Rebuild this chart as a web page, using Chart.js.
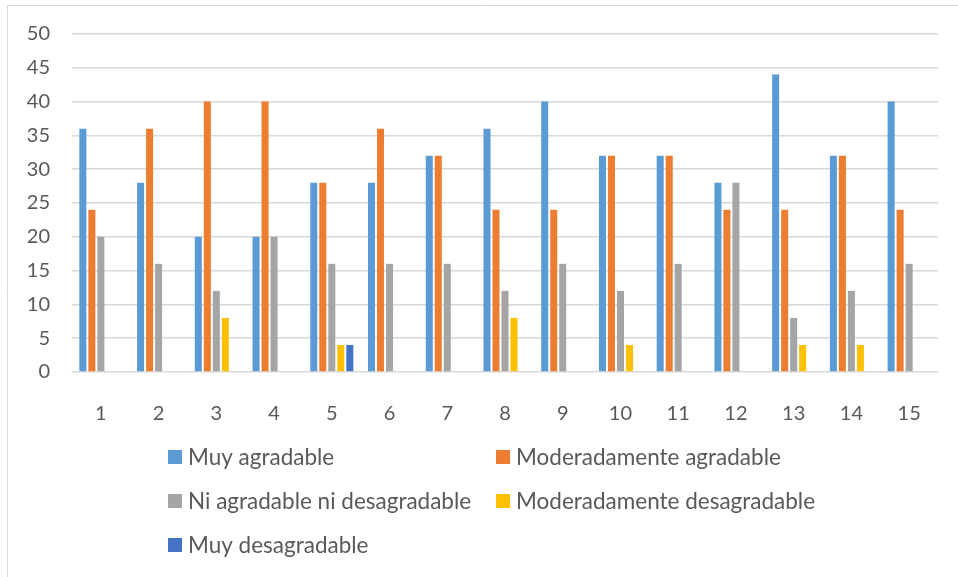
<!DOCTYPE html>
<html>
<head>
<meta charset="utf-8">
<style>
  html, body { margin: 0; padding: 0; background: #ffffff; }
  #wrap { width: 958px; height: 577px; position: relative; }
</style>
<script src="https://cdn.jsdelivr.net/npm/chart.js@4/dist/chart.umd.min.js"></script>
</head>
<body>
<div id="wrap"><canvas id="chart" width="958" height="577"></canvas></div>
<script>
// Categories (respondent / sample number)
const categories = ['1','2','3','4','5','6','7','8','9','10','11','12','13','14','15'];

// Series labels
const seriesLabels = [
  'Muy agradable',
  'Moderadamente agradable',
  'Ni agradable ni desagradable',
  'Moderadamente desagradable',
  'Muy desagradable'
];

// Series values
const muyAgradable      = [36, 28, 20, 20, 28, 28, 32, 36, 40, 32, 32, 28, 44, 32, 40];
const modAgradable      = [24, 36, 40, 40, 28, 36, 32, 24, 24, 32, 32, 24, 24, 32, 24];
const niAgradableNiDes  = [20, 16, 12, 20, 16, 16, 16, 12, 16, 12, 16, 28,  8, 12, 16];
const modDesagradable   = [ 0,  0,  8,  0,  4,  0,  0,  8,  0,  4,  0,  0,  4,  4,  0];
const muyDesagradable   = [ 0,  0,  0,  0,  4,  0,  0,  0,  0,  0,  0,  0,  0,  0,  0];

// Y-axis tick range
const yMin = 0, yMax = 50, yStep = 5;

const seriesColors = ['#5B9BD5', '#ED7D31', '#A5A5A5', '#FFC000', '#4472C4'];
const seriesValues = [muyAgradable, modAgradable, niAgradableNiDes, modDesagradable, muyDesagradable];

const FONT = 'Lato, "Open Sans", sans-serif';
const TEXT = '#595959';

// Light frame along the left and top edges
const framePlugin = {
  id: 'frame',
  beforeDraw(chart) {
    const ctx = chart.ctx;
    ctx.save();
    ctx.strokeStyle = '#d9d9d9';
    ctx.lineWidth = 1;
    ctx.beginPath();
    ctx.moveTo(7.5, 577);
    ctx.lineTo(7.5, 5.5);
    ctx.lineTo(958, 5.5);
    ctx.stroke();
    ctx.restore();
  }
};

// Two-column legend below the plot
const legendPlugin = {
  id: 'gridLegend',
  afterDraw(chart) {
    const ctx = chart.ctx;
    const cols = [168, 496];
    const rows = [457, 501, 545];
    const box = 14;
    ctx.save();
    ctx.font = '22.5px ' + FONT;
    ctx.textBaseline = 'middle';
    ctx.textAlign = 'left';
    chart.data.datasets.forEach((ds, i) => {
      const x = cols[i % 2];
      const y = rows[Math.floor(i / 2)];
      ctx.fillStyle = ds.backgroundColor;
      ctx.fillRect(x, y - box / 2, box, box);
      ctx.fillStyle = TEXT;
      ctx.fillText(ds.label, x + box + 6, y + 1);
    });
    ctx.restore();
  }
};

new Chart(document.getElementById('chart'), {
  type: 'bar',
  data: {
    labels: categories,
    datasets: seriesLabels.map((label, i) => ({
      label: label,
      data: seriesValues[i],
      backgroundColor: seriesColors[i],
      borderWidth: 0,
      categoryPercentage: 0.78,
      barPercentage: 0.78
    }))
  },
  options: {
    responsive: false,
    animation: false,
    devicePixelRatio: 1,
    layout: { padding: { left: 0, right: 20, top: 34, bottom: 0 } },
    plugins: {
      legend: { display: false },
      tooltip: { enabled: false }
    },
    scales: {
      x: {
        grid: { display: false },
        border: { display: false },
        ticks: {
          color: TEXT,
          font: { family: FONT, size: 20 },
          padding: 22,
          maxRotation: 0
        },
        afterFit(scale) { scale.height = 205; }
      },
      y: {
        min: yMin,
        max: yMax,
        grid: { color: '#d9d9d9', lineWidth: 1.5, drawTicks: false },
        border: { display: false },
        ticks: {
          stepSize: yStep,
          color: TEXT,
          font: { family: FONT, size: 20 },
          padding: 22
        },
        afterFit(scale) { scale.width = 72; }
      }
    }
  },
  plugins: [framePlugin, legendPlugin]
});
</script>
</body>
</html>
